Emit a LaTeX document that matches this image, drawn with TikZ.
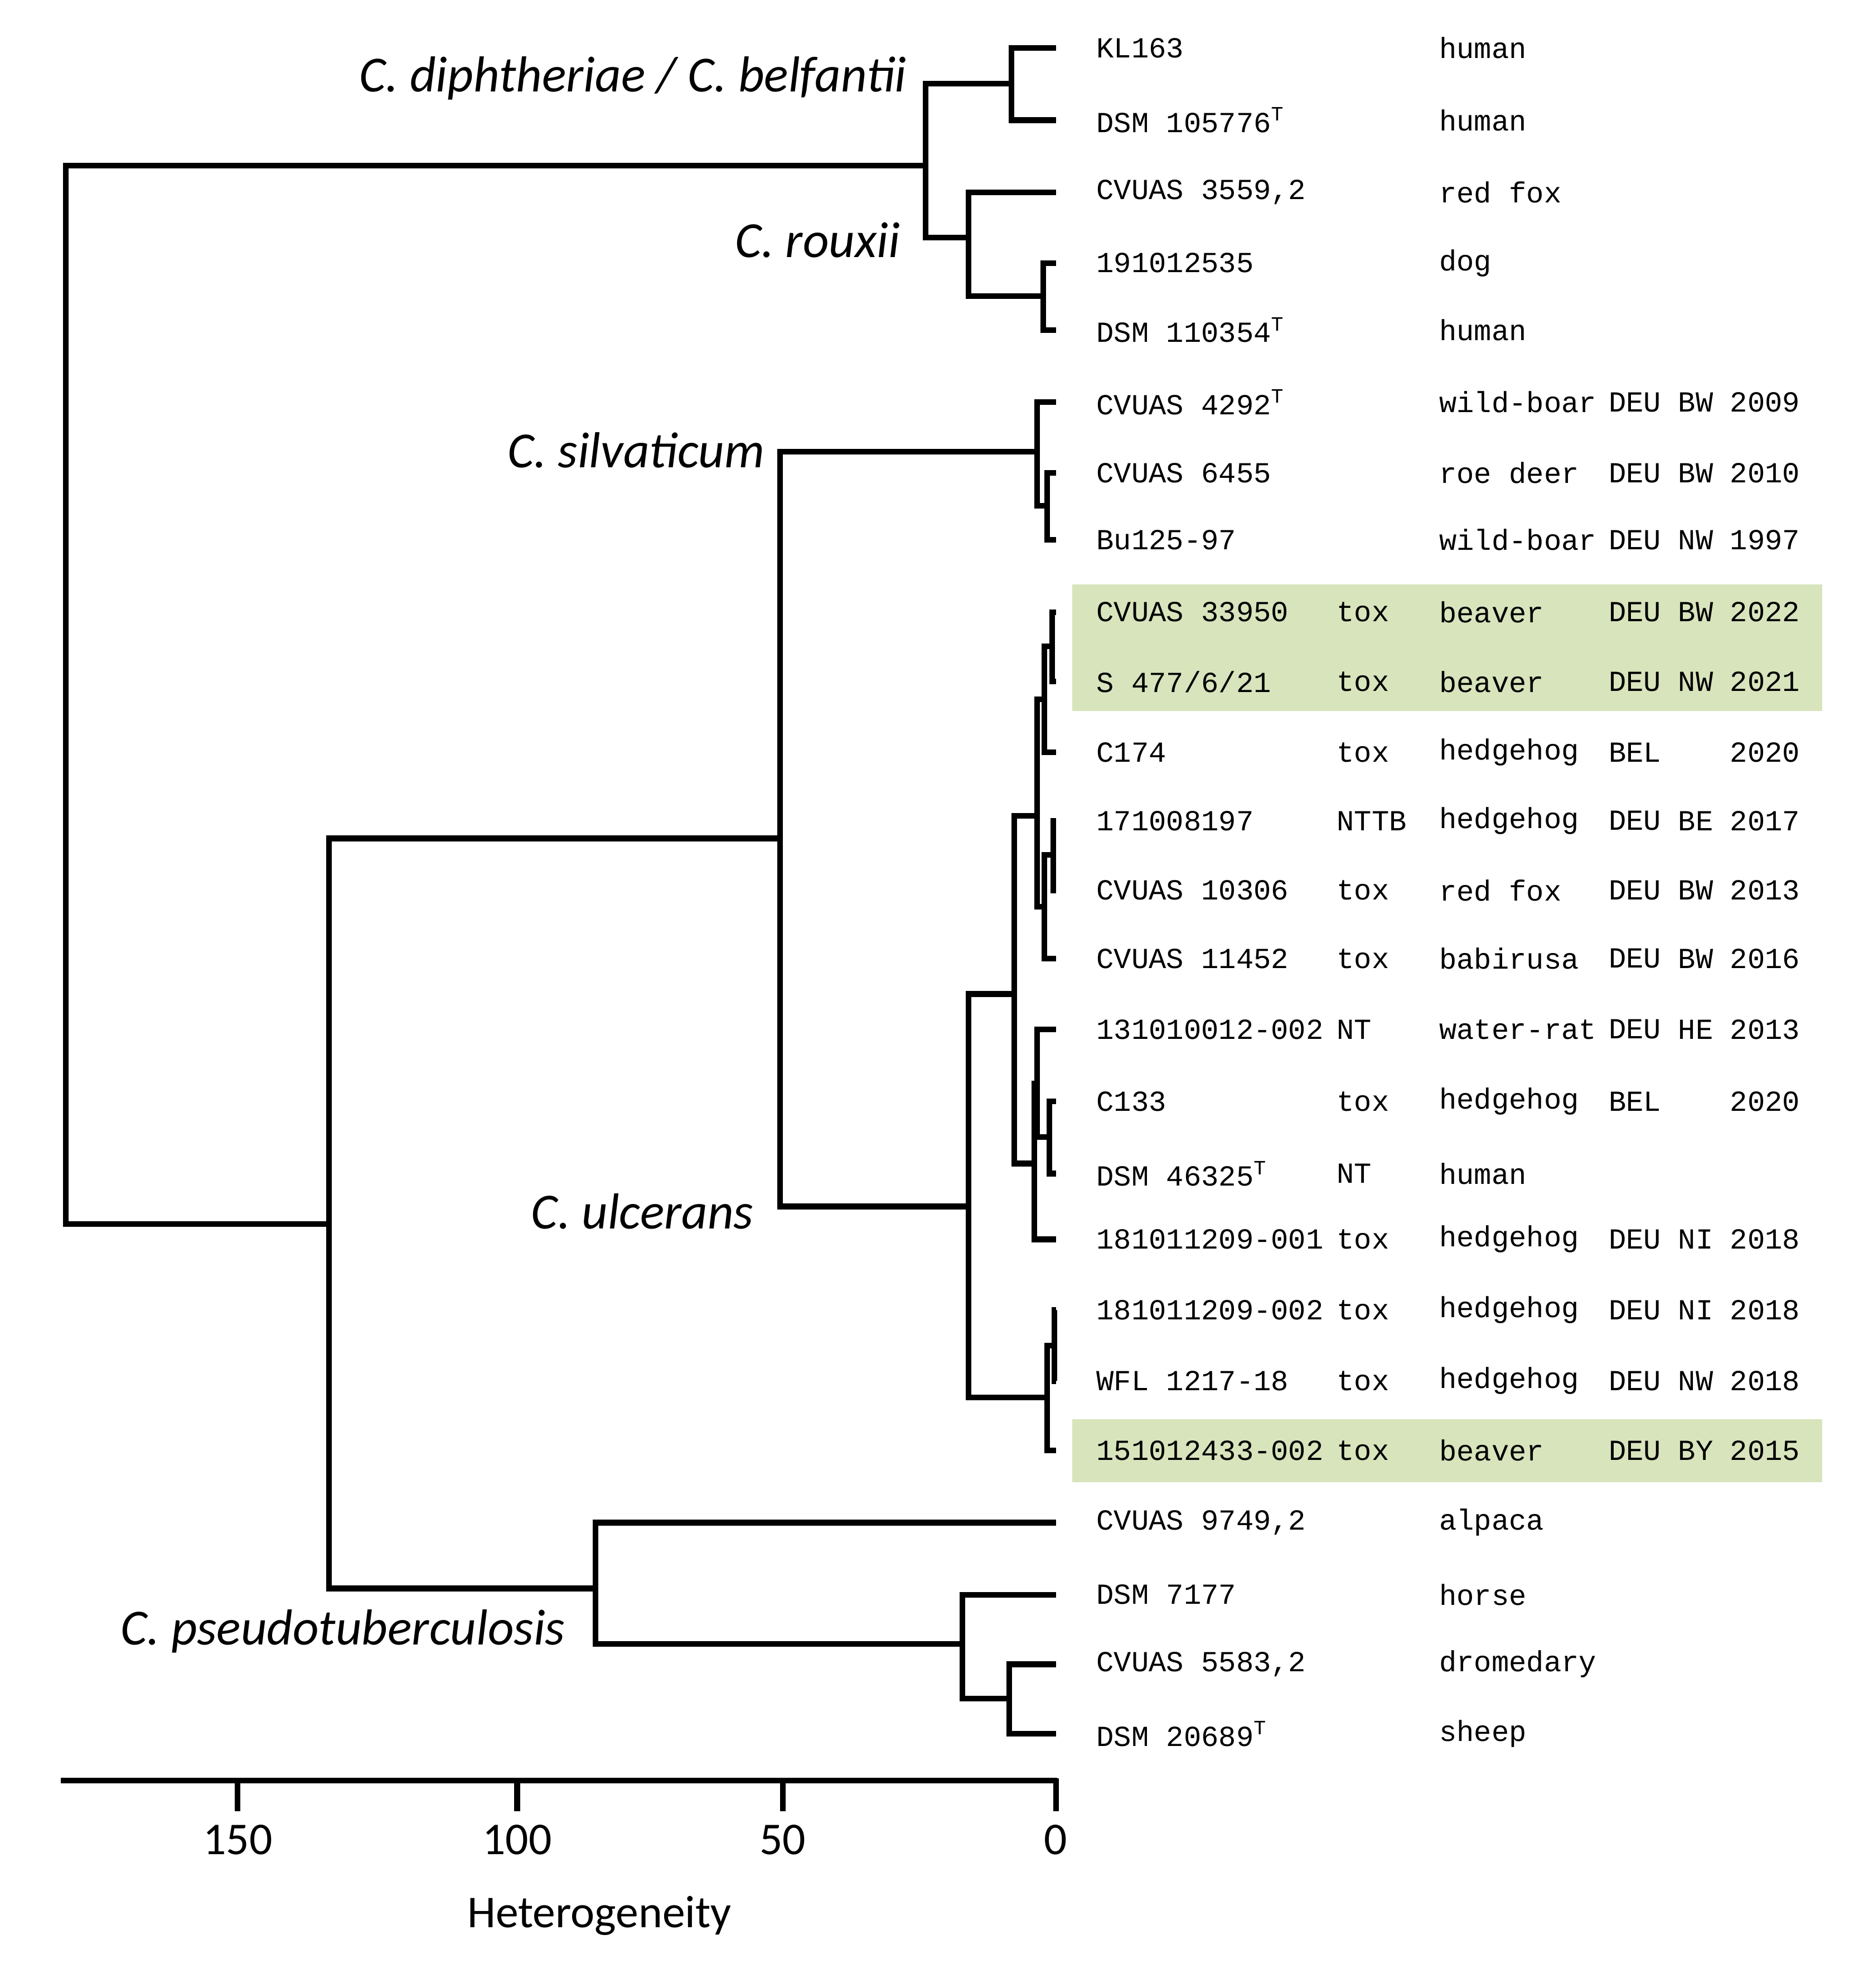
\documentclass[tikz,border=0pt]{standalone}
\usepackage{fontspec}
\setmainfont{Carlito}
\setmonofont{Liberation Mono}
\begin{document}
\begin{tikzpicture}[x=1pt,y=-1pt,
  br/.style={line width=4.5pt,line cap=butt,line join=miter},
  mono/.style={font=\fontsize{23}{23}\selectfont\ttfamily,anchor=west,inner sep=0},
  sp/.style={font=\fontsize{40}{40}\selectfont\itshape,anchor=east,inner sep=0},
  ax/.style={font=\fontsize{36}{36}\selectfont,inner sep=0}]
\useasboundingbox (0,0) rectangle (1470,1572);
\fill[fill={rgb,255:red,216;green,228;blue,188}] (848,462) rectangle (1441,562);
\fill[fill={rgb,255:red,216;green,228;blue,188}] (848,1122) rectangle (1441,1172);
% tree
\draw[br] (835,38)--(800,38)--(800,95)--(835,95);
\draw[br] (835,208)--(825,208)--(825,261)--(835,261);
\draw[br] (835,152)--(766,152)--(766,234)--(825,234);
\draw[br] (800,66)--(732,66)--(732,188)--(766,188);
\draw[br] (732,131)--(52,131)--(52,968)--(260,968);
\draw[br] (835,374)--(828,374)--(828,427)--(835,427);
\draw[br] (835,318)--(820,318)--(820,400)--(828,400);
\draw[br] (820,357)--(617,357)--(617,954)--(766,954);
\draw[br] (835,484)--(832,484)--(832,539)--(835,539);
\draw[br] (835,595)--(826,595)--(826,511)--(832,511);
\draw[br] (835,649)--(833,649)--(833,704)--(835,704);
\draw[br] (835,758)--(826,758)--(826,676)--(833,676);
\draw[br] (826,553)--(820,553)--(820,717)--(826,717);
\draw[br] (835,871)--(830,871)--(830,928)--(835,928);
\draw[br] (835,814)--(820,814)--(820,899)--(830,899);
\draw[br] (835,980)--(818,980)--(818,857)--(820,857);
\draw[br] (820,645)--(802,645)--(802,920)--(818,920);
\draw[br] (835,1036)--(834,1036)--(834,1092)--(835,1092);
\draw[br] (835,1147)--(828,1147)--(828,1064)--(834,1064);
\draw[br] (802,786)--(766,786)--(766,1105)--(828,1105);
\draw[br] (617,663)--(260,663)--(260,1256)--(471,1256);
\draw[br] (835,1316)--(798,1316)--(798,1371)--(835,1371);
\draw[br] (835,1261)--(761,1261)--(761,1343)--(798,1343);
\draw[br] (761,1300)--(471,1300)--(471,1204)--(835,1204);
% axis
\draw[br] (48,1408)--(836,1408);
\foreach \x/\l in {188/150,409/100,619/50,835/0}{
  \draw[br] (\x,1406)--(\x,1432);
  \node[ax] (t\l) at (\x,1455) {\l};}
\node[ax] (het) at (474,1515) {Heterogeneity};
% species
\node[sp] (s1) at (717,62) {C. diphtheriae / C. belfantii};
\node[sp] (s2) at (712,190) {C. rouxii};
\node[sp] (s3) at (605,356) {C. silvaticum};
\node[sp] (s4) at (596,958) {C. ulcerans};
\node[sp] (s5) at (447,1290) {C. pseudotuberculosis};
% table
\def\T{\textsuperscript{T}}
\foreach \y/\a/\b/\c/\d/\e/\f [count=\i] in {
 38/KL163//human///,
 95/DSM 105776\T//human///,
 152/{CVUAS 3559,2}//red fox///,
 208/191012535//dog///,
 261/DSM 110354\T//human///,
 318/CVUAS 4292\T//wild-boar/DEU/BW/2009,
 374/CVUAS 6455//roe deer/DEU/BW/2010,
 427/Bu125-97//wild-boar/DEU/NW/1997,
 484/CVUAS 33950/tox/beaver/DEU/BW/2022,
 539/{S 477/6/21}/tox/beaver/DEU/NW/2021,
 595/C174/tox/hedgehog/BEL//2020,
 649/171008197/NTTB/hedgehog/DEU/BE/2017,
 704/CVUAS 10306/tox/red fox/DEU/BW/2013,
 758/CVUAS 11452/tox/babirusa/DEU/BW/2016,
 814/131010012-002/NT/water-rat/DEU/HE/2013,
 871/C133/tox/hedgehog/BEL//2020,
 928/DSM 46325\T/NT/human///,
 980/181011209-001/tox/hedgehog/DEU/NI/2018,
 1036/181011209-002/tox/hedgehog/DEU/NI/2018,
 1092/WFL 1217-18/tox/hedgehog/DEU/NW/2018,
 1147/151012433-002/tox/beaver/DEU/BY/2015,
 1204/{CVUAS 9749,2}//alpaca///,
 1261/DSM 7177//horse///,
 1316/{CVUAS 5583,2}//dromedary///,
 1371/DSM 20689\T//sheep///}{
 \node[mono] (id\i) at (867,\y) {\a};
 \node[mono] (tx\i) at (1057,\y) {\b};
 \node[mono] (ho\i) at (1138,\y) {\c};
 \node[mono] (co\i) at (1272,\y) {\d};
 \node[mono] (st\i) at (1327,\y) {\e};
 \node[mono] (yr\i) at (1368,\y) {\f};
}
\end{tikzpicture}
\end{document}
